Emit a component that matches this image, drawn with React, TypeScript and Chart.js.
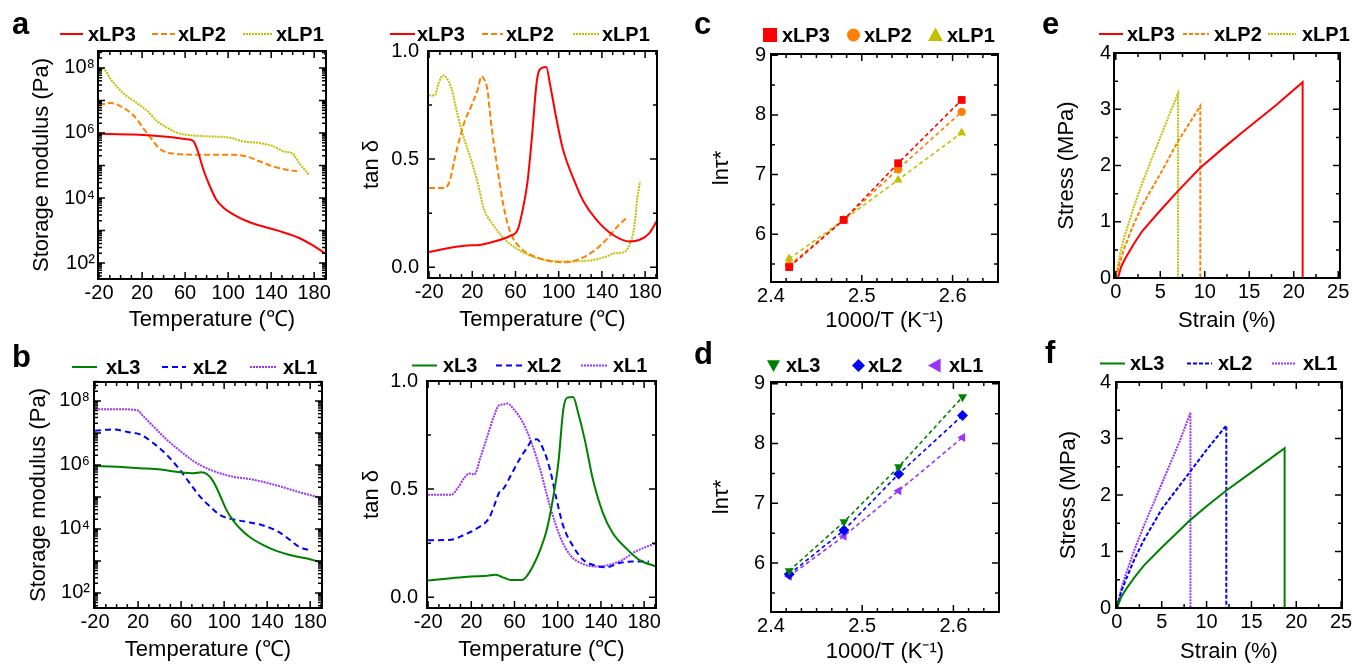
import React, { useEffect, useRef } from 'react';
import { Chart, registerables } from 'chart.js';

Chart.register(...registerables);

const FONT = '"Liberation Sans", Arial, Helvetica, sans-serif';
Chart.defaults.font.family = FONT;
Chart.defaults.color = '#000';

// ---------------- colours ----------------
const RED = '#ff0000';
const ORANGE = '#ff8000';
const OLIVE = '#c0c000';
const GREEN = '#008000';
const BLUE = '#0000ff';
const PURPLE = '#9933ff';

// ---------------- (a) storage modulus, xLP series ----------------
const modLP3T = [-20, 13, 43, 60, 65, 68, 72, 77, 83, 89, 96, 105, 120, 135, 151, 166, 178, 190];
const modLP3G = [9.5e5, 8.9e5, 7.6e5, 6.5e5, 6.2e5, 5.5e5, 2.6e5, 7.4e4, 2.3e4, 8.9e3, 4.9e3, 3.1e3, 1.8e3, 1.26e3, 8.9e2, 5.9e2, 3.6e2, 2.0e2];
const modLP2T = [-20, -9, 0, 13, 22, 28, 34, 40, 50, 74, 105, 117, 129, 142, 154, 164];
const modLP2G = [7.4e6, 8.3e6, 6.6e6, 3.2e6, 1.26e6, 7.1e5, 3.9e5, 2.75e5, 2.3e5, 2.14e5, 2.14e5, 1.9e5, 1.35e5, 9.3e4, 7.4e4, 6.6e4];
const modLP1T = [-20, -15, -9, 4, 13, 25, 34, 44, 53, 62, 80, 102, 114, 129, 142, 151, 160, 166, 175];
const modLP1G = [1.0e8, 8.9e7, 4.4e7, 1.5e7, 9.3e6, 4.7e6, 2.3e6, 1.4e6, 1.0e6, 8.7e5, 7.9e5, 7.1e5, 5.5e5, 4.9e5, 3.9e5, 2.75e5, 2.3e5, 1.2e5, 5.2e4];

// ---------------- tan delta, xLP series ----------------
const tanLP3T = [-20, -3, 13, 28, 37, 46, 55, 62, 66, 71, 75, 80, 85, 88.5, 92, 98, 104, 114, 123, 135, 150, 166, 175, 184, 191];
const tanLP3V = [0.07, 0.088, 0.099, 0.104, 0.114, 0.127, 0.145, 0.173, 0.25, 0.39, 0.59, 0.87, 0.923, 0.926, 0.845, 0.683, 0.544, 0.405, 0.304, 0.219, 0.15, 0.119, 0.127, 0.158, 0.215];
const tanLP2T = [-20, -6, -1, 3.5, 8, 13, 19, 25, 28.6, 31, 34, 37, 43, 49, 55.5, 65, 80, 104, 117, 132, 144, 153, 162.5];
const tanLP2V = [0.366, 0.366, 0.397, 0.498, 0.59, 0.675, 0.745, 0.822, 0.884, 0.869, 0.822, 0.683, 0.467, 0.281, 0.158, 0.088, 0.045, 0.023, 0.034, 0.073, 0.127, 0.181, 0.227];
const tanLP1T = [-20, -15, -11, -7, -4, 0.5, 6.6, 12.7, 18.8, 25, 31, 37, 49, 62, 80, 104, 129, 144, 152, 159.5, 165.6, 170, 173, 175.4];
const tanLP1V = [0.794, 0.794, 0.853, 0.887, 0.876, 0.83, 0.7, 0.59, 0.498, 0.39, 0.266, 0.212, 0.134, 0.083, 0.042, 0.026, 0.031, 0.049, 0.065, 0.068, 0.104, 0.189, 0.328, 0.397];

// ---------------- (b) storage modulus, xL series ----------------
const modL3T = [-20, 0.6, 22, 41, 59, 71, 79, 84, 90, 96, 102, 108, 114.5, 124, 136, 148, 164, 179, 191];
const modL3G = [9.3e5, 8.7e5, 7.9e5, 7.2e5, 5.9e5, 5.5e5, 5.9e5, 5.2e5, 3.0e5, 1.15e5, 4.0e4, 1.9e4, 1.05e4, 5.5e3, 3.2e3, 2.1e3, 1.45e3, 1.15e3, 8.9e2];
const modL2T = [-20, -2.5, 10, 22, 34.5, 47, 59, 68, 77.6, 87, 96, 108, 124, 139, 151.5, 161, 170, 179];
const modL2G = [1.17e7, 1.29e7, 1.07e7, 8.9e6, 4.7e6, 2.0e6, 6.9e5, 2.7e5, 1.02e5, 5.0e4, 2.75e4, 2.0e4, 1.6e4, 1.2e4, 7.8e3, 4.6e3, 2.7e3, 2.2e3];
const modL1T = [-20, 0.6, 19, 25, 34.5, 47, 59, 71, 84, 96, 108, 124, 139, 155, 170, 191];
const modL1G = [5.5e7, 5.5e7, 5.1e7, 3.3e7, 1.55e7, 6.0e6, 2.75e6, 1.35e6, 7.8e5, 5.5e5, 4.3e5, 3.6e5, 2.8e5, 2.0e5, 1.4e5, 9.1e4];

// ---------------- tan delta, xL series ----------------
const tanL3T = [-20, 1.4, 19.7, 35, 42.6, 48.7, 56.3, 67, 71.6, 77.7, 83.8, 89.9, 96, 100.6, 105.2, 108.8, 114.3, 118.9, 125, 132.6, 141.8, 150.9, 163.2, 175.4, 191];
const tanL3V = [0.077, 0.088, 0.096, 0.099, 0.104, 0.093, 0.08, 0.08, 0.099, 0.15, 0.219, 0.312, 0.467, 0.621, 0.869, 0.923, 0.926, 0.853, 0.73, 0.544, 0.39, 0.297, 0.227, 0.173, 0.142];
const tanL2T = [-20, 1.4, 13.6, 25.8, 36.5, 41, 45.6, 50.2, 57.8, 65.5, 71.6, 76.2, 80.7, 86.8, 92.9, 99, 105.2, 114.3, 123.5, 135.7, 144.8, 157, 169.3, 184.5];
const tanL2V = [0.263, 0.266, 0.289, 0.32, 0.366, 0.42, 0.482, 0.505, 0.575, 0.645, 0.691, 0.726, 0.73, 0.683, 0.59, 0.451, 0.328, 0.235, 0.173, 0.145, 0.138, 0.158, 0.165, 0.165];
const tanL1T = [-20, 1.4, 7.5, 13.6, 18.2, 22.7, 28.8, 34.9, 41, 45.6, 50.2, 53.3, 59.4, 67, 74.6, 83.8, 92.9, 102.1, 111.3, 123.5, 135.7, 147.9, 160.1, 172.3, 191];
const tanL1V = [0.474, 0.474, 0.505, 0.552, 0.572, 0.567, 0.652, 0.745, 0.838, 0.887, 0.892, 0.896, 0.869, 0.815, 0.73, 0.59, 0.42, 0.281, 0.196, 0.153, 0.142, 0.15, 0.173, 0.212, 0.25];

// ---------------- (c)/(d) ln tau* vs 1000/T ----------------
const invT = [2.42, 2.48, 2.54, 2.61];
const lnTauLP3 = [5.45, 6.24, 7.19, 8.25];
const lnTauLP2 = [5.48, 6.24, 7.09, 8.05];
const lnTauLP1 = [5.59, 6.24, 6.91, 7.7];
const lnTauL3 = [5.87, 6.69, 7.61, 8.78];
const lnTauL2 = [5.81, 6.55, 7.49, 8.47];
const lnTauL1 = [5.78, 6.45, 7.21, 8.1];

// ---------------- (e)/(f) stress-strain ----------------
const strainLP3 = [0.25, 0.6, 1, 2, 3, 5, 7, 9.5, 12, 14.3, 18, 21, 21];
const stressLP3 = [0, 0.2, 0.33, 0.6, 0.84, 1.2, 1.55, 1.96, 2.3, 2.6, 3.07, 3.48, 0];
const strainLP2 = [0, 0.5, 1, 2, 3, 5, 7, 9.5, 9.5];
const stressLP2 = [0, 0.3, 0.55, 0.95, 1.3, 1.85, 2.43, 3.06, 0];
const strainLP1 = [0, 0.5, 1, 2, 3, 4, 5, 6, 7, 7];
const stressLP1 = [0, 0.45, 0.75, 1.25, 1.7, 2.1, 2.5, 2.9, 3.28, 0];
const strainL3 = [0, 0.5, 1, 2, 3, 5, 8.2, 10, 12.2, 15, 18.7, 18.7];
const stressL3 = [0, 0.2, 0.33, 0.55, 0.75, 1.07, 1.56, 1.8, 2.08, 2.4, 2.83, 0];
const strainL2 = [0, 0.5, 1, 2, 3, 5, 8.2, 10, 12.2, 12.2];
const stressL2 = [0, 0.3, 0.5, 0.88, 1.2, 1.75, 2.42, 2.8, 3.23, 0];
const strainL1 = [0, 0.5, 1, 2, 3, 5, 7, 8.2, 8.2];
const stressL1 = [0, 0.35, 0.6, 1.05, 1.45, 2.2, 2.95, 3.46, 0];

// ---------------- tick values / labels ----------------
const tempTickValues = [-20, 20, 60, 100, 140, 180];
const tempTickLabels = ['-20', '20', '60', '100', '140', '180'];
const tempMinor = [-10, 0, 10, 30, 40, 50, 70, 80, 90, 110, 120, 130, 150, 160, 170, 190];
const logTickValues = [1e2, 1e4, 1e6, 1e8];
const logTickLabels = ['10²', '10⁴', '10⁶', '10⁸'];
const logMajor = [1e2, 1e3, 1e4, 1e5, 1e6, 1e7, 1e8];
const logMinor: number[] = [];
for (let e = 1; e <= 8; e++) for (let m = 2; m <= 9; m++) logMinor.push(m * Math.pow(10, e));
const tanTickValues = [0, 0.5, 1];
const tanTickLabels = ['0.0', '0.5', '1.0'];
const tanMinor = [0.25, 0.75];
const invTTickValues = [2.4, 2.5, 2.6];
const invTTickLabels = ['2.4', '2.5', '2.6'];
const invTMinor: number[] = [];
for (let k = 1; k <= 15; k++) if (k % 6 !== 0) invTMinor.push(2.4 + k / 60);
const lnTickValues = [6, 7, 8, 9];
const lnTickLabels = ['6', '7', '8', '9'];
const lnMinor = [5.5, 6.5, 7.5, 8.5];
const strainTickValues = [0, 5, 10, 15, 20, 25];
const strainTickLabels = ['0', '5', '10', '15', '20', '25'];
const strainMinor = [2.5, 7.5, 12.5, 17.5, 22.5];
const stressTickValues = [0, 1, 2, 3, 4];
const stressTickLabels = ['0', '1', '2', '3', '4'];
const stressMinor = [0.5, 1.5, 2.5, 3.5];

// ---------------- helpers ----------------
const pts = (xs: number[], ys: number[]) => xs.map((x, i) => ({ x, y: ys[i] }));

const curve = (label: string, xs: number[], ys: number[], color: string, dash: number[], smooth = true) => ({
  label,
  data: pts(xs, ys),
  borderColor: color,
  backgroundColor: color,
  borderWidth: 2,
  borderDash: dash,
  pointRadius: 0,
  fill: false,
  tension: 0,
  cubicInterpolationMode: smooth ? 'monotone' : 'default',
  order: 0,
});

const markers = (label: string, ys: number[], color: string, style: string, radius: number, rotation = 0) => ({
  label,
  data: pts(invT, ys),
  showLine: false,
  borderColor: color,
  backgroundColor: color,
  pointBackgroundColor: color,
  pointBorderColor: color,
  pointBorderWidth: 0,
  pointStyle: style,
  pointRadius: radius,
  pointRotation: rotation,
  order: 0,
});

const fitLine = (label: string, ys: number[], color: string) => ({
  label,
  data: pts(invT, ys),
  borderColor: color,
  backgroundColor: color,
  borderWidth: 1.6,
  borderDash: [4, 3],
  pointRadius: 0,
  fill: false,
  tension: 0,
  order: 1,
});

function drawMarker(ctx: any, style: string, cx: number, cy: number, r: number, color: string) {
  ctx.beginPath();
  if (style === 'square') ctx.rect(cx - r, cy - r, 2 * r, 2 * r);
  else if (style === 'circle') ctx.arc(cx, cy, r, 0, Math.PI * 2);
  else if (style === 'up') { ctx.moveTo(cx, cy - r); ctx.lineTo(cx + r, cy + r * 0.8); ctx.lineTo(cx - r, cy + r * 0.8); }
  else if (style === 'down') { ctx.moveTo(cx, cy + r); ctx.lineTo(cx + r, cy - r * 0.8); ctx.lineTo(cx - r, cy - r * 0.8); }
  else if (style === 'left') { ctx.moveTo(cx - r, cy); ctx.lineTo(cx + r * 0.8, cy - r); ctx.lineTo(cx + r * 0.8, cy + r); }
  else if (style === 'diamond') { ctx.moveTo(cx, cy - r); ctx.lineTo(cx + r, cy); ctx.lineTo(cx, cy + r); ctx.lineTo(cx - r, cy); }
  ctx.closePath();
  ctx.fillStyle = color;
  ctx.fill();
}

const framePlugin = {
  id: 'frame',
  afterDatasetsDraw(chart: any, _args: any, opts: any) {
    const { ctx, chartArea: a } = chart;
    const xs = chart.scales.x;
    const ys = chart.scales.y;
    ctx.save();
    ctx.setLineDash([]);
    ctx.strokeStyle = '#000';
    ctx.lineWidth = 1.5;
    ctx.beginPath();
    const xt = (vals: number[], len: number) => vals.forEach((v) => {
      const p = xs.getPixelForValue(v);
      if (p < a.left - 0.5 || p > a.right + 0.5) return;
      ctx.moveTo(p, a.bottom); ctx.lineTo(p, a.bottom - len);
      ctx.moveTo(p, a.top); ctx.lineTo(p, a.top + len);
    });
    const yt = (vals: number[], len: number) => vals.forEach((v) => {
      const p = ys.getPixelForValue(v);
      if (p < a.top - 0.5 || p > a.bottom + 0.5) return;
      ctx.moveTo(a.left, p); ctx.lineTo(a.left + len, p);
      ctx.moveTo(a.right, p); ctx.lineTo(a.right - len, p);
    });
    xt(opts.xMajor, 7); xt(opts.xMinor, 4);
    yt(opts.yMajor, 7); yt(opts.yMinor, 4);
    ctx.stroke();
    ctx.lineWidth = 2;
    ctx.strokeRect(a.left, a.top, a.right - a.left, a.bottom - a.top);
    ctx.restore();
  },
};

const keyPlugin = {
  id: 'key',
  afterDraw(chart: any, _args: any, opts: any) {
    const ctx = chart.ctx;
    ctx.save();
    ctx.font = `bold ${opts.size}px ${FONT}`;
    ctx.textAlign = 'left';
    ctx.textBaseline = 'middle';
    const y = opts.y;
    for (const it of opts.items) {
      const ds = chart.data.datasets[it.ds];
      if (it.marker) {
        drawMarker(ctx, it.marker, it.x + it.w / 2, y, it.w / 2, ds.backgroundColor);
      } else {
        ctx.save();
        ctx.strokeStyle = ds.borderColor;
        ctx.lineWidth = ds.borderWidth;
        ctx.setLineDash(ds.borderDash || []);
        ctx.beginPath();
        ctx.moveTo(it.x, y);
        ctx.lineTo(it.x + it.w, y);
        ctx.stroke();
        ctx.restore();
      }
      ctx.fillStyle = '#000';
      ctx.fillText(ds.label, it.tx, y + 1);
    }
    ctx.restore();
  },
};

type AxisSpec = {
  type?: string; min: number; max: number;
  values: number[]; labels: string[];
  major: number[]; minor: number[]; title: string;
};
type PanelSpec = {
  box: { x: number; y: number; w: number; h: number };
  area: { l: number; t: number; r: number; b: number };
  x: AxisSpec; y: AxisSpec;
  xTitleY: number; yTitleX: number; xPad: number; yPad: number;
  datasets: any[];
  legendY: number;
  legend: { ds: number; x: number; w: number; tx: number; marker?: string }[];
};

function buildConfig(p: PanelSpec): any {
  const { box, area } = p;
  const TS = 22;
  const LH = TS * 1.2;
  const axis = (s: AxisSpec, horizontal: boolean) => ({
    type: s.type || 'linear',
    position: horizontal ? 'bottom' : 'left',
    min: s.min,
    max: s.max,
    grid: { display: false, drawTicks: false },
    border: { display: false },
    ticks: {
      color: '#000',
      font: { size: 20, family: FONT },
      padding: horizontal ? p.xPad : p.yPad,
      autoSkip: false,
      maxRotation: 0,
      minRotation: 0,
      callback: (_v: any, i: number) => s.labels[i],
    },
    afterBuildTicks: (sc: any) => { sc.ticks = s.values.map((v) => ({ value: v })); },
    afterFit: (sc: any) => {
      if (horizontal) sc.height = box.y + box.h - area.b;
      else sc.width = area.l - box.x;
    },
    title: {
      display: true,
      text: s.title,
      color: '#000',
      font: { size: TS, family: FONT },
      padding: horizontal
        ? { top: 0, bottom: box.y + box.h - p.xTitleY - LH / 2 }
        : { top: p.yTitleX - box.x - LH / 2, bottom: 0 },
    },
  });
  return {
    type: 'line',
    data: { datasets: p.datasets },
    options: {
      responsive: false,
      maintainAspectRatio: false,
      animation: false,
      events: [],
      layout: { padding: { left: 0, top: area.t - box.y, right: box.x + box.w - area.r, bottom: 0 } },
      scales: { x: axis(p.x, true), y: axis(p.y, false) },
      plugins: {
        legend: { display: false },
        tooltip: { enabled: false },
        title: { display: false },
        frame: { xMajor: p.x.major, xMinor: p.x.minor, yMajor: p.y.major, yMinor: p.y.minor },
        key: {
          y: p.legendY - box.y,
          size: 20,
          items: p.legend.map((it) => ({ ...it, x: it.x - box.x, tx: it.tx - box.x })),
        },
      },
    },
    plugins: [framePlugin, keyPlugin],
  };
}

// ---------------- axis specs ----------------
const tempAxis: AxisSpec = { min: -21, max: 191, values: tempTickValues, labels: tempTickLabels, major: tempTickValues, minor: tempMinor, title: 'Temperature (℃)' };
const modAxis = (lo: number, hi: number): AxisSpec => ({ type: 'logarithmic', min: Math.pow(10, lo), max: Math.pow(10, hi), values: logTickValues, labels: logTickLabels, major: logMajor, minor: logMinor, title: 'Storage modulus (Pa)' });
const tanAxis: AxisSpec = { min: -0.05, max: 1.0, values: tanTickValues, labels: tanTickLabels, major: tanTickValues, minor: tanMinor, title: 'tan δ' };
const invTAxis: AxisSpec = { min: 2.4, max: 2.65, values: invTTickValues, labels: invTTickLabels, major: invTTickValues, minor: invTMinor, title: '1000/T (K⁻¹)' };
const lnAxis = (lo: number, hi: number): AxisSpec => ({ min: lo, max: hi, values: lnTickValues, labels: lnTickLabels, major: lnTickValues, minor: lnMinor, title: 'lnτ*' });
const strainAxis = (lo: number, hi: number): AxisSpec => ({ min: lo, max: hi, values: strainTickValues, labels: strainTickLabels, major: strainTickValues, minor: strainMinor, title: 'Strain (%)' });
const stressAxis: AxisSpec = { min: 0, max: 4, values: stressTickValues, labels: stressTickLabels, major: stressTickValues, minor: stressMinor, title: 'Stress (MPa)' };

const panels: PanelSpec[] = [
  {
    box: { x: 0, y: 0, w: 360, h: 340 }, area: { l: 98, t: 51, r: 326, b: 279 },
    x: tempAxis, y: modAxis(1.51, 8.52), xTitleY: 320, yTitleX: 42, xPad: 2, yPad: 3,
    datasets: [
      curve('xLP3', modLP3T, modLP3G, RED, []),
      curve('xLP2', modLP2T, modLP2G, ORANGE, [6, 3]),
      curve('xLP1', modLP1T, modLP1G, OLIVE, [2, 1]),
    ],
    legendY: 34,
    legend: [{ ds: 0, x: 60, w: 23, tx: 88 }, { ds: 1, x: 152, w: 23, tx: 178 }, { ds: 2, x: 243, w: 29, tx: 276 }],
  },
  {
    box: { x: 340, y: 0, w: 350, h: 340 }, area: { l: 428, t: 51, r: 657, b: 278 },
    x: tempAxis, y: tanAxis, xTitleY: 320, yTitleX: 372, xPad: 2, yPad: 9,
    datasets: [
      curve('xLP3', tanLP3T, tanLP3V, RED, []),
      curve('xLP2', tanLP2T, tanLP2V, ORANGE, [6, 3]),
      curve('xLP1', tanLP1T, tanLP1V, OLIVE, [2, 1]),
    ],
    legendY: 34,
    legend: [{ ds: 0, x: 390, w: 25, tx: 417 }, { ds: 1, x: 482, w: 21, tx: 506 }, { ds: 2, x: 573, w: 26, tx: 602 }],
  },
  {
    box: { x: 680, y: 0, w: 350, h: 340 }, area: { l: 771, t: 54, r: 998, b: 282 },
    x: invTAxis, y: lnAxis(5.2, 9.02), xTitleY: 321, yTitleX: 722, xPad: 2, yPad: 5,
    datasets: [
      markers('xLP3', lnTauLP3, RED, 'rect', 5.5),
      markers('xLP2', lnTauLP2, ORANGE, 'circle', 4.2),
      markers('xLP1', lnTauLP1, OLIVE, 'triangle', 5.2),
      fitLine('xLP3 fit', lnTauLP3, RED),
      fitLine('xLP2 fit', lnTauLP2, ORANGE),
      fitLine('xLP1 fit', lnTauLP1, OLIVE),
    ],
    legendY: 35,
    legend: [
      { ds: 0, x: 763, w: 14, tx: 782, marker: 'square' },
      { ds: 1, x: 847, w: 13, tx: 864, marker: 'circle' },
      { ds: 2, x: 928, w: 15, tx: 947, marker: 'up' },
    ],
  },
  {
    box: { x: 1010, y: 0, w: 370, h: 340 }, area: { l: 1114, t: 53, r: 1340, b: 278 },
    x: strainAxis(-0.2, 25.2), y: stressAxis, xTitleY: 321, yTitleX: 1067, xPad: 2, yPad: 3,
    datasets: [
      curve('xLP3', strainLP3, stressLP3, RED, [], false),
      curve('xLP2', strainLP2, stressLP2, ORANGE, [4, 2], false),
      curve('xLP1', strainLP1, stressLP1, OLIVE, [2, 1], false),
    ],
    legendY: 34,
    legend: [{ ds: 0, x: 1099, w: 24, tx: 1127 }, { ds: 1, x: 1183, w: 26, tx: 1214 }, { ds: 2, x: 1268, w: 28, tx: 1302 }],
  },
  {
    box: { x: 0, y: 335, w: 360, h: 335 }, area: { l: 94, t: 382, r: 322, b: 608 },
    x: tempAxis, y: modAxis(1.53, 8.59), xTitleY: 650, yTitleX: 39, xPad: 2, yPad: 4,
    datasets: [
      curve('xL3', modL3T, modL3G, GREEN, []),
      curve('xL2', modL2T, modL2G, BLUE, [6, 4]),
      curve('xL1', modL1T, modL1G, PURPLE, [2, 1]),
    ],
    legendY: 367,
    legend: [{ ds: 0, x: 72, w: 25, tx: 106 }, { ds: 1, x: 162, w: 24, tx: 193 }, { ds: 2, x: 250, w: 27, tx: 283 }],
  },
  {
    box: { x: 340, y: 335, w: 350, h: 335 }, area: { l: 427, t: 381, r: 656, b: 608 },
    x: tempAxis, y: tanAxis, xTitleY: 650, yTitleX: 372, xPad: 2, yPad: 9,
    datasets: [
      curve('xL3', tanL3T, tanL3V, GREEN, []),
      curve('xL2', tanL2T, tanL2V, BLUE, [6, 4]),
      curve('xL1', tanL1T, tanL1V, PURPLE, [2, 1]),
    ],
    legendY: 365.5,
    legend: [{ ds: 0, x: 412, w: 25, tx: 443 }, { ds: 1, x: 496, w: 26, tx: 527 }, { ds: 2, x: 581, w: 26, tx: 613 }],
  },
  {
    box: { x: 680, y: 335, w: 350, h: 335 }, area: { l: 771, t: 382, r: 999, b: 612 },
    x: invTAxis, y: lnAxis(5.18, 9.03), xTitleY: 652, yTitleX: 722, xPad: 2, yPad: 6,
    datasets: [
      markers('xL3', lnTauL3, GREEN, 'triangle', 5.2, 180),
      markers('xL2', lnTauL2, BLUE, 'rectRot', 5.5),
      markers('xL1', lnTauL1, PURPLE, 'triangle', 5.2, 270),
      fitLine('xL3 fit', lnTauL3, GREEN),
      fitLine('xL2 fit', lnTauL2, BLUE),
      fitLine('xL1 fit', lnTauL1, PURPLE),
    ],
    legendY: 365.5,
    legend: [
      { ds: 0, x: 767, w: 13, tx: 786, marker: 'down' },
      { ds: 1, x: 852, w: 13, tx: 868, marker: 'diamond' },
      { ds: 2, x: 928, w: 14, tx: 949, marker: 'left' },
    ],
  },
  {
    box: { x: 1010, y: 335, w: 370, h: 335 }, area: { l: 1116, t: 382, r: 1342, b: 608 },
    x: strainAxis(-0.1, 25.1), y: stressAxis, xTitleY: 652, yTitleX: 1069, xPad: 2, yPad: 5,
    datasets: [
      curve('xL3', strainL3, stressL3, GREEN, [], false),
      curve('xL2', strainL2, stressL2, BLUE, [4, 2], false),
      curve('xL1', strainL1, stressL1, PURPLE, [2, 1], false),
    ],
    legendY: 363.5,
    legend: [{ ds: 0, x: 1100, w: 25, tx: 1130 }, { ds: 1, x: 1187, w: 25, tx: 1218 }, { ds: 2, x: 1272, w: 24, tx: 1303 }],
  },
];

const panelLetters = [
  { t: 'a', x: 12, base: 34 },
  { t: 'b', x: 12, base: 367 },
  { t: 'c', x: 694, base: 34 },
  { t: 'd', x: 694, base: 364 },
  { t: 'e', x: 1042, base: 34 },
  { t: 'f', x: 1045, base: 363 },
];

function ChartPanel({ spec }: { spec: PanelSpec }) {
  const ref = useRef<HTMLCanvasElement>(null);
  useEffect(() => {
    const chart = new Chart(ref.current as HTMLCanvasElement, buildConfig(spec));
    return () => chart.destroy();
  }, [spec]);
  return (
    <canvas
      ref={ref}
      width={spec.box.w}
      height={spec.box.h}
      style={{ position: 'absolute', left: spec.box.x, top: spec.box.y, width: spec.box.w, height: spec.box.h }}
    />
  );
}

export default function App() {
  return (
    <div style={{ position: 'fixed', left: 0, top: 0, width: 1354, height: 664, overflow: 'hidden', background: '#fff' }}>
      {panels.map((p, i) => (
        <ChartPanel key={i} spec={p} />
      ))}
      {panelLetters.map((l) => (
        <div
          key={l.t}
          style={{
            position: 'absolute',
            left: l.x,
            top: l.base - 26.2,
            font: `bold 31px ${FONT}`,
            lineHeight: '31px',
            color: '#000',
          }}
        >
          {l.t}
        </div>
      ))}
    </div>
  );
}
